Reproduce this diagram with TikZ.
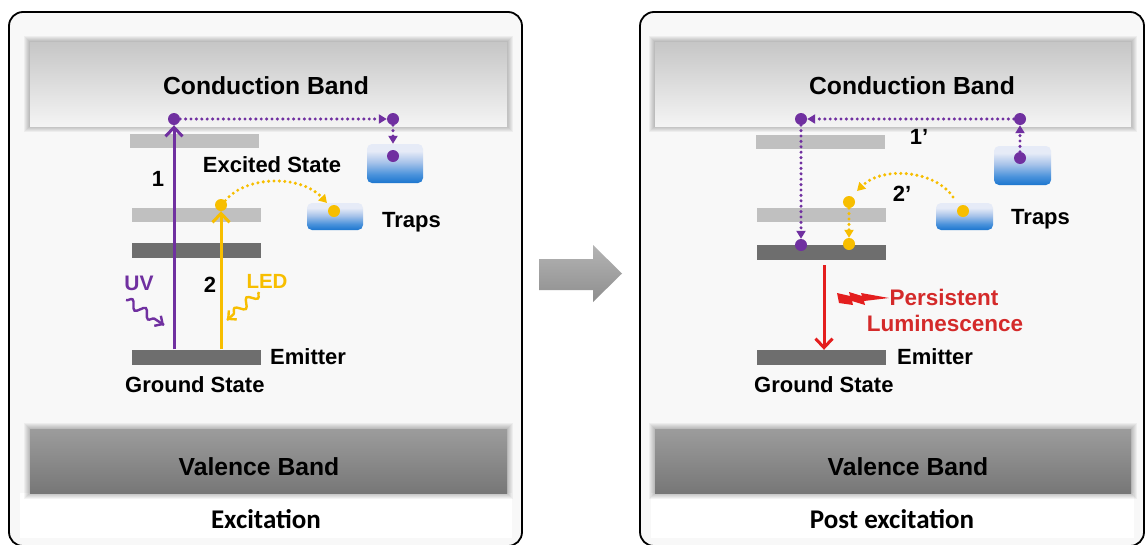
\documentclass[tikz,border=0pt]{standalone}
\usepackage{fontspec}
\setmainfont{Liberation Sans}
\newfontfamily\capfont{Carlito}
\usetikzlibrary{arrows.meta,decorations.pathmorphing,calc,backgrounds}
\definecolor{purp}{HTML}{7030A0}
\definecolor{yel}{HTML}{F7BE00}
\definecolor{redA}{HTML}{E41E1E}
\definecolor{redT}{HTML}{D42A2A}
\definecolor{panelbg}{HTML}{F8F8F8}
\definecolor{lvlL}{HTML}{C0C0C0}
\definecolor{lvlD}{HTML}{6E6E6E}
\definecolor{trapB}{HTML}{1C76CF}
\definecolor{trapB2}{HTML}{4A92DB}
\definecolor{trapM}{HTML}{A9C4EA}
\definecolor{trapL}{HTML}{E6EBF7}
\definecolor{cbtop}{HTML}{C6C6C6}
\definecolor{cbbot}{HTML}{F4F4F4}
\definecolor{vbtop}{HTML}{9C9C9C}
\definecolor{vbbot}{HTML}{777777}
\definecolor{arrtop}{HTML}{B4B4B4}
\definecolor{arrbot}{HTML}{8E8E8E}
\pgfdeclareverticalshading{trapsh}{100bp}{color(0bp)=(trapB); color(25bp)=(trapB); color(36bp)=(trapB2); color(52bp)=(trapM); color(66bp)=(trapL); color(75bp)=(trapL); color(100bp)=(trapL)}
\tikzset{
  panel/.style={draw=black, line width=1.8pt, rounded corners=14pt, fill=panelbg},
  band/.style={draw=none, inner sep=0pt},
  cband/.style={band, top color=cbtop, bottom color=cbbot},
  vband/.style={band, top color=vbtop, bottom color=vbbot},
  halo/.style={fill=black, fill opacity=0.045, draw=none},
  lvllight/.style={fill=lvlL, draw=none, inner sep=0pt, minimum width=129pt, minimum height=14pt},
  lvldark/.style={fill=lvlD, draw=none, inner sep=0pt, minimum width=129pt, minimum height=15pt},
  trapbox/.style={shading=trapsh, draw=none, rounded corners=5pt, inner sep=0pt},
  pdot/.style={circle, fill=purp, inner sep=0pt, minimum size=12pt},
  ydot/.style={circle, fill=yel, inner sep=0pt, minimum size=12pt},
  lbl/.style={font=\bfseries\fontsize{22}{24}\selectfont, inner sep=0pt, text height=15.8pt, text depth=0pt},
  blbl/.style={font=\bfseries\fontsize{24.7}{26}\selectfont, inner sep=0pt, text height=17.7pt, text depth=0pt},
  caplbl/.style={font=\capfont\bfseries\fontsize{27}{29}\selectfont, inner sep=0pt, text height=17.4pt, text depth=0pt},
  solidarr/.style={line width=3pt, -{Straight Barb[length=9pt,width=17pt,line width=3pt]}},
  dotarr/.style={line width=3.4pt, dash pattern=on 0pt off 5.4pt, line cap=round, -{Triangle[length=8pt,width=9pt]}},
  wavearr/.style={line width=2.4pt, decorate, decoration={snake, amplitude=4.2pt, segment length=16pt, post length=7pt}},
  wavetip/.style={-{Straight Barb[length=6pt,width=12pt,line width=2.4pt]}}
}
\newcommand{\bandhalo}[1]{%
  \foreach \d in {1,2,3,4,5,6}{%
    \path[halo] ($(#1.south west)+(-\d,\d)$) rectangle ($(#1.north east)+(\d,-\d)$);}}
\begin{document}
\begin{tikzpicture}[x=1pt,y=-1pt]
\useasboundingbox (0,0) rectangle (1147,544);

% ---------------- bands (main layer) ----------------
\node[cband, minimum width=477pt, minimum height=84pt] (CBL) at (268.5,84) {};
\node[vband, minimum width=477pt, minimum height=64pt] (VBL) at (268.5,461) {};
\node[cband, minimum width=476pt, minimum height=84pt] (CBR) at (893,84) {};
\node[vband, minimum width=476pt, minimum height=64pt] (VBR) at (893,461) {};

\begin{pgfonlayer}{background}
\fill[white] (0,0) rectangle (1147,544);
\draw[panel] (9,12) rectangle (522,546);
\fill[white] (20,493) rectangle (512,538);
\draw[panel] (640,12) rectangle (1144,546);
\fill[white] (651,493) rectangle (1134,538);
\bandhalo{CBL}
\bandhalo{VBL}
\bandhalo{CBR}
\bandhalo{VBR}
\end{pgfonlayer}

% ---------------- Left panel ----------------
\node[blbl] (CBLt) at (266,86) {Conduction Band};
\node[blbl] (VBLt) at (259,467) {Valence Band};
\node[caplbl] (capL) at (266,520) {Excitation};

\node[lvllight] (LA) at (194.5,141) {};
\node[lvllight] (LB) at (196,214.5) {};
\node[lvldark]  (LC) at (196,250.5) {};
\node[lvldark]  (LG) at (196,357) {};

\node[trapbox, minimum width=56pt, minimum height=39pt] (TUL) at (395,163.5) {};
\node[trapbox, minimum width=56pt, minimum height=27pt] (TLL) at (335,216.5) {};

\node[pdot] (P1) at (174,119) {};
\node[pdot] (P2) at (393,119) {};
\node[pdot] (P3) at (393,156) {};
\node[ydot] (Y1) at (221,205) {};
\node[ydot] (Y2) at (334,211) {};

\draw[solidarr, purp] (LG.north -| P1) -- (P1);
\draw[solidarr, yel] (LG.north -| Y1) -- (Y1);
\draw[dotarr, purp] (P1) -- (P2);
\draw[dotarr, purp] (P2) -- (TUL.north -| P2);
\coordinate (YE) at (327,203);
\draw[dotarr, yel] (Y1.north east) .. controls (245,176) and (300,174) .. (YE);

\node[lbl] (ES) at (272,165) {Excited State};
\node[lbl] (n1) at (158,179) {1};
\node[lbl] (n2) at (210,285) {2};
\node[lbl, anchor=west] (TrL) at (382,220) {Traps};
\node[lbl, anchor=west] (EmL) at (270,357) {Emitter};
\node[lbl, anchor=west] (GSL) at (125,385) {Ground State};
\node[lbl, purp, font=\bfseries\fontsize{21}{23}\selectfont] (UV) at (139,283) {UV};
\node[lbl, yel, font=\bfseries\fontsize{20.5}{23}\selectfont] (LED) at (267,281) {LED};

\coordinate (uvS) at (126,300);
\coordinate (uvE) at (164,325);
\draw[purp, wavearr] (uvS) -- (uvE);
\draw[purp, wavetip] ($(uvE)!6pt!(uvS)$) -- (uvE);
\coordinate (ledS) at (259,292);
\coordinate (ledE) at (227,320);
\draw[yel, wavearr] (ledS) -- (ledE);
\draw[yel, wavetip] ($(ledE)!6pt!(ledS)$) -- (ledE);

% ---------------- middle arrow ----------------
\shade[top color=arrtop, bottom color=arrbot]
  (539,259) -- (593,259) -- (593,245) -- (622,273.5) -- (593,302) -- (593,290) -- (539,290) -- cycle;

% ---------------- Right panel ----------------
\node[blbl] (CBRt) at (912,86) {Conduction Band};
\node[blbl] (VBRt) at (908,467) {Valence Band};
\node[caplbl] (capR) at (892,520) {Post excitation};

\node[lvllight] (RA) at (820.5,141.5) {};
\node[lvllight] (RB) at (821,214.5) {};
\node[lvldark]  (RC) at (821,252) {};
\node[lvldark]  (RG) at (821,357.5) {};

\node[trapbox, minimum width=57pt, minimum height=39pt] (TUR) at (1022.5,165.5) {};
\node[trapbox, minimum width=57pt, minimum height=27pt] (TLR) at (964.5,216.5) {};

\node[pdot] (Q1) at (801,119) {};
\node[pdot] (Q2) at (1020,119) {};
\node[pdot] (Q3) at (1020,158) {};
\node[pdot] (Q4) at (801,245) {};
\node[ydot] (Z1) at (849,202) {};
\node[ydot] (Z2) at (849,244) {};
\node[ydot] (Z3) at (963,211) {};

\draw[dotarr, purp] (Q3) -- (Q2);
\draw[dotarr, purp] (Q2) -- (Q1);
\draw[dotarr, purp] (Q1) -- (Q4);
\draw[dotarr, yel] (Z1) -- (Z2);
\coordinate (YS2) at (953,197);
\coordinate (YE2) at (857,191);
\draw[dotarr, yel] (YS2) .. controls (935,170) and (882,166) .. (YE2);

\coordinate (rs) at (824,265);
\draw[solidarr, redA] (rs) -- (RG.north -| rs);
\fill[redA] (837,293) -- (850,296) -- (849,292) -- (862,296) -- (861,293) -- (889,298)
  -- (864,301) -- (865,305) -- (852,301) -- (853,305) -- (839,303) -- cycle;

\node[lbl] (n1p) at (919,137) {1’};
\node[lbl] (n2p) at (902,194) {2’};
\node[lbl, anchor=west] (TrR) at (1011,217) {Traps};
\node[lbl, anchor=west] (EmR) at (897,357) {Emitter};
\node[lbl, anchor=west] (GSR) at (754,385) {Ground State};
\node[lbl, redT, font=\bfseries\fontsize{22.5}{24}\selectfont] (PL1) at (944,298) {Persistent};
\node[lbl, redT, font=\bfseries\fontsize{22.5}{24}\selectfont] (PL2) at (945,324) {Luminescence};
\end{tikzpicture}
\end{document}
